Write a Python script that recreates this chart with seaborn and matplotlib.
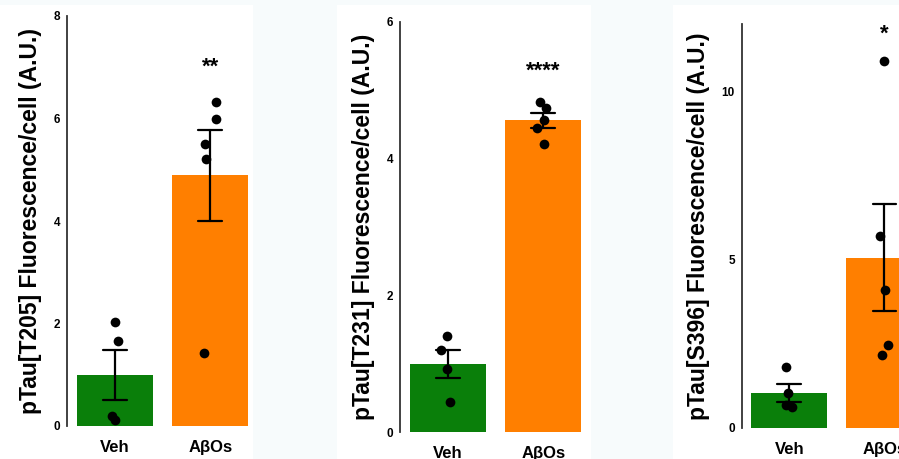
"""
pTau fluorescence per cell: Veh vs AβOs, three phospho-sites side by side.
"""

import numpy as np
import pandas as pd
import matplotlib
matplotlib.use("Agg")
import matplotlib.pyplot as plt
from matplotlib.patches import Rectangle
import seaborn as sns


GROUPS = ["Veh", "AβOs"]
COLORS = ["#0a7f0a", "#ff7f00"]

# per-coverslip values
t205_veh = [2.02, 1.65, 0.20, 0.12]
t205_abo = [6.33, 6.00, 5.50, 5.21, 1.42]
t231_veh = [1.40, 1.20, 0.93, 0.45]
t231_abo = [4.83, 4.74, 4.57, 4.45, 4.21]
s396_veh = [1.79, 1.03, 0.68, 0.63]
s396_abo = [10.90, 5.70, 4.09, 2.45, 2.15]

sites      = ["T205", "T231", "S396"]
y_max      = [8, 6, 12]
y_ticks    = [[0, 2, 4, 6, 8], [0, 2, 4, 6], [0, 5, 10]]
sig_labels = ["**", "****", "*"]
sig_y      = [7.0, 5.27, 11.7]

# axes boxes in pixels: left, right, y of zero line, y of top
BOXES = [(67, 258, 426, 16), (400, 591, 432.3, 21.7), (741.7, 932, 427.7, 24)]
# white panel backgrounds (x0, x1) in pixels
PANELS = [(0, 253), (337, 591), (673, 899)]

W, H = 899, 459


def make_df(veh, abo):
    return pd.DataFrame({
        "group": ["Veh"] * len(veh) + ["AβOs"] * len(abo),
        "value": list(veh) + list(abo),
    })


def main():
    sns.set_style("white")
    plt.rcParams["font.family"] = ["Liberation Sans", "DejaVu Sans"]
    plt.rcParams["font.weight"] = "bold"
    for key in ["text.color", "axes.labelcolor", "xtick.color", "ytick.color"]:
        plt.rcParams[key] = "black"
    np.random.seed(3)

    fig = plt.figure(figsize=(W / 100, H / 100), dpi=100, facecolor="#f7fbfc")
    for x0, x1 in PANELS:
        fig.patches.append(Rectangle((x0 / W, 0), (x1 - x0) / W, (H - 5) / H,
                                     transform=fig.transFigure, facecolor="white",
                                     edgecolor="none", zorder=-10))

    data = [(t205_veh, t205_abo), (t231_veh, t231_abo), (s396_veh, s396_abo)]
    for i, (veh, abo) in enumerate(data):
        left, right, y0, ytop = BOXES[i]
        ax = fig.add_axes([left / W, (H - y0) / H, (right - left) / W, (y0 - ytop) / H])
        ax.patch.set_alpha(0)
        df = make_df(veh, abo)

        sns.barplot(data=df, x="group", y="value", hue="group", order=GROUPS,
                    hue_order=GROUPS, palette=COLORS, saturation=1,
                    errorbar="se", capsize=0.25, width=0.8, linewidth=0,
                    legend=False, err_kws={"color": "black", "linewidth": 1.6},
                    ax=ax)
        sns.stripplot(data=df, x="group", y="value", order=GROUPS, color="black",
                      size=7, jitter=0.07, ax=ax, zorder=4)

        ax.text(1, sig_y[i], sig_labels[i], ha="center", va="center",
                fontsize=16, fontweight="bold")

        ax.set_xlim(-0.5, 1.5)
        ax.set_ylim(0, y_max[i])
        ax.set_yticks(y_ticks[i])
        ax.set_xlabel("")
        ax.set_ylabel(f"pTau[{sites[i]}] Fluorescence/cell (A.U.)",
                      fontsize=16.5, fontweight="bold", labelpad=8)
        for s in ["top", "right", "bottom"]:
            ax.spines[s].set_visible(False)
        ax.spines["left"].set_color("#333333")
        ax.spines["left"].set_linewidth(1.3)
        ax.tick_params(axis="y", length=3, width=1, color="#333333",
                       labelsize=8.5, pad=2)
        ax.tick_params(axis="x", length=0, labelsize=12, pad=10)
        for lab in ax.get_xticklabels() + ax.get_yticklabels():
            lab.set_fontweight("bold")

    fig.savefig("out.png", dpi=100, facecolor=fig.get_facecolor())
    plt.close(fig)


if __name__ == "__main__":
    main()
